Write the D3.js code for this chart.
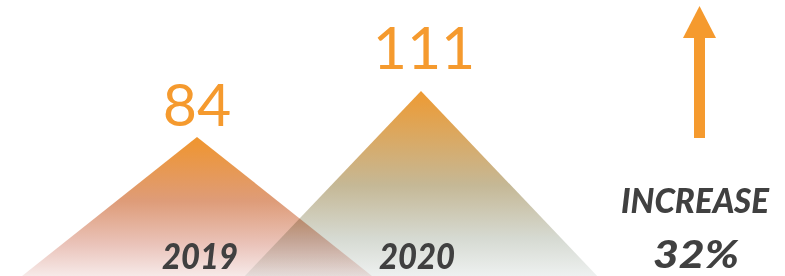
<!DOCTYPE html>
<html>
<head>
<meta charset="utf-8">
<script src="https://cdn.jsdelivr.net/npm/d3@7"></script>
<style>
  html, body { margin: 0; padding: 0; background: #ffffff; }
  svg { display: block; }
</style>
</head>
<body>
<svg id="chart" width="785" height="276"></svg>
<script>
// ---- data ----
const years = ["2019", "2020"];
const values = [84, 111];
const increaseLabel = "INCREASE";

// ---- layout ----
const W = 785, H = 276;
const svg = d3.select("#chart");

const x = d3.scalePoint().domain(years).range([197, 421]);
const y = d3.scaleLinear().domain([0, d3.max(values)]).range([280, 91]);
const labelY = d3.scaleLinear().domain([0, d3.max(values)]).range([303, 69]);
const halfBase = 180;

const defs = svg.append("defs");
const gradStops = [
  [["0", "#F0952D"], ["0.45", "#DE9C79"], ["0.75", "#EAC3B9"], ["1", "#F8EEEE"]],
  [["0", "#EE9A32"], ["0.5", "#C5B896"], ["0.78", "#D6DAD2"], ["1", "#F0F3F3"]]
];
gradStops.forEach((stops, i) => {
  const g = defs.append("linearGradient").attr("id", "g" + i)
    .attr("x1", 0).attr("y1", 0).attr("x2", 0).attr("y2", 1);
  stops.forEach(s => g.append("stop").attr("offset", s[0]).attr("stop-color", s[1]));
});

const data = years.map((yr, i) => ({ year: yr, value: values[i], i }));

// triangles: draw 2020 first, then 2019 on top with multiply blend
const order = [1, 0];
order.forEach(i => {
  const d = data[i];
  const cx = x(d.year), top = y(d.value), base = y(0);
  svg.append("path")
    .attr("d", d3.line()([[cx - halfBase, base], [cx, top], [cx + halfBase, base]]) + "Z")
    .attr("fill", `url(#g${i})`)
    .style("mix-blend-mode", "multiply");
});

// value labels
svg.selectAll("text.val").data(data).enter().append("text")
  .attr("class", "val")
  .attr("x", d => x(d.year) + (d.i === 1 ? 3 : 0))
  .attr("y", d => labelY(d.value))
  .attr("text-anchor", "middle")
  .attr("font-family", "Lato, 'Open Sans', sans-serif")
  .attr("font-size", 59)
  .attr("fill", "#F59A2E")
  .text(d => d.value);

// year labels
svg.selectAll("text.yr").data(data).enter().append("text")
  .attr("class", "yr")
  .attr("x", d => x(d.year) + (d.i === 0 ? 3 : -4))
  .attr("y", 269)
  .attr("text-anchor", "middle")
  .attr("font-family", "Lato, 'Open Sans', sans-serif")
  .attr("font-size", 36)
  .attr("font-weight", 900)
  .attr("font-style", "italic")
  .attr("fill", "#404040")
  .attr("textLength", 76)
  .attr("lengthAdjust", "spacingAndGlyphs")
  .text(d => d.year);

// increase arrow
const ax = 699.5;
svg.append("rect").attr("x", ax - 5.5).attr("y", 36).attr("width", 11).attr("height", 102).attr("fill", "#F59A2E");
svg.append("path")
  .attr("d", d3.line()([[ax - 16.5, 38], [ax, 6], [ax + 16.5, 38]]) + "Z")
  .attr("fill", "#F59A2E");

const pct = Math.round((values[1] - values[0]) / values[0] * 100) + "%";

svg.append("text")
  .attr("x", 695).attr("y", 213)
  .attr("text-anchor", "middle")
  .attr("font-family", "Lato, 'Open Sans', sans-serif")
  .attr("font-size", 35)
  .attr("font-weight", 900)
  .attr("font-style", "italic")
  .attr("fill", "#404040")
  .attr("textLength", 148)
  .attr("lengthAdjust", "spacingAndGlyphs")
  .text(increaseLabel);

svg.append("text")
  .attr("x", 696).attr("y", 268)
  .attr("text-anchor", "middle")
  .attr("font-family", "Lato, 'Open Sans', sans-serif")
  .attr("font-size", 38)
  .attr("font-weight", 900)
  .attr("font-style", "italic")
  .attr("fill", "#404040")
  .attr("textLength", 86)
  .attr("lengthAdjust", "spacingAndGlyphs")
  .text(pct);
</script>
</body>
</html>
